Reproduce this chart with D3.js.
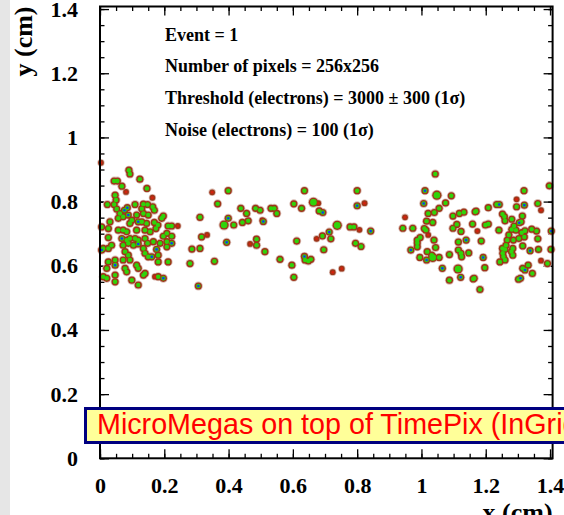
<!DOCTYPE html>
<html>
<head>
<meta charset="utf-8">
<script src="https://cdn.jsdelivr.net/npm/d3@7"></script>
<style>
  body { margin: 0; background: #fff; }
  #chart_container { position: relative; }
</style>
</head>
<body>
<div id="chart_container"></div>
<script>
// axis ticks and labels
const xTickValues = [0, 0.2, 0.4, 0.6, 0.8, 1, 1.2, 1.4];
const xTickLabels = ["0", "0.2", "0.4", "0.6", "0.8", "1", "1.2", "1.4"];
const yTickValues = [0, 0.2, 0.4, 0.6, 0.8, 1, 1.2, 1.4];
const yTickLabels = ["0", "0.2", "0.4", "0.6", "0.8", "1", "1.2", "1.4"];
const minorStep = 0.05;
const axisMax = 1.408; // 256 pixels x 55 um

const infoLines = [
    "Event = 1",
    "Number of pixels = 256x256",
    "Threshold (electrons) = 3000 \u00b1 300 (1\u03c3)",
    "Noise (electrons) = 100 (1\u03c3)"
];
const bannerText = "MicroMegas on top of TimePix (InGrid)";

// hits: [x (cm), y (cm), charge level] 0 = low, 1 = normal, 2 = high, 3 = large
const hitsLeft = [
    [0.003, 0.921, 0], [0.090, 0.898, 1], [0.093, 0.886, 1], [0.124, 0.870, 1], [0.044, 0.864, 1], [0.054, 0.864, 1],
    [0.068, 0.848, 1], [0.081, 0.830, 0], [0.146, 0.841, 1], [0.047, 0.820, 1], [0.163, 0.812, 0], [0.050, 0.805, 1],
    [0.044, 0.791, 1], [0.023, 0.791, 1], [0.109, 0.791, 1], [0.135, 0.792, 1], [0.148, 0.791, 1], [0.130, 0.778, 1],
    [0.164, 0.784, 1], [0.169, 0.773, 1], [0.085, 0.781, 2], [0.076, 0.773, 2], [0.052, 0.777, 1], [0.062, 0.763, 1],
    [0.057, 0.748, 1], [0.072, 0.753, 1], [0.088, 0.758, 2], [0.099, 0.742, 1], [0.093, 0.732, 1], [0.114, 0.758, 1],
    [0.135, 0.763, 1], [0.150, 0.758, 1], [0.197, 0.755, 1], [0.192, 0.748, 1], [0.119, 0.737, 2], [0.130, 0.737, 1],
    [0.145, 0.732, 1], [0.169, 0.735, 1], [0.180, 0.727, 1], [0.174, 0.716, 1], [0.031, 0.737, 1], [0.005, 0.721, 1],
    [0.026, 0.716, 1], [0.057, 0.711, 1], [0.072, 0.711, 1], [0.083, 0.706, 1], [0.223, 0.724, 1], [0.212, 0.724, 1],
    [0.242, 0.724, 0], [0.114, 0.711, 1], [0.140, 0.711, 1], [0.156, 0.706, 1], [0.197, 0.692, 1], [0.208, 0.701, 1],
    [0.223, 0.692, 1], [0.026, 0.688, 1], [0.068, 0.685, 2], [0.083, 0.680, 1], [0.093, 0.685, 1], [0.109, 0.685, 1],
    [0.119, 0.680, 1], [0.140, 0.685, 1], [0.148, 0.670, 1], [0.166, 0.675, 1], [0.187, 0.670, 1], [0.208, 0.675, 1],
    [0.208, 0.659, 1], [0.223, 0.670, 2], [0.036, 0.664, 1], [0.026, 0.654, 1], [0.072, 0.664, 1], [0.088, 0.670, 1],
    [0.104, 0.664, 1], [0.119, 0.668, 2], [0.135, 0.654, 1], [0.176, 0.651, 2], [0.005, 0.649, 2], [0.010, 0.654, 1],
    [0.078, 0.644, 1], [0.088, 0.633, 1], [0.140, 0.639, 1], [0.150, 0.628, 1], [0.161, 0.628, 2], [0.181, 0.633, 1],
    [0.181, 0.612, 1], [0.212, 0.612, 1], [0.026, 0.612, 1], [0.047, 0.618, 1], [0.021, 0.592, 1], [0.047, 0.602, 2],
    [0.072, 0.618, 1], [0.093, 0.618, 1], [0.114, 0.602, 1], [0.119, 0.592, 1], [0.078, 0.592, 1], [0.083, 0.581, 1],
    [0.140, 0.576, 1], [0.047, 0.571, 1], [0.010, 0.566, 1], [0.021, 0.561, 1], [0.135, 0.571, 1], [0.099, 0.555, 1],
    [0.047, 0.550, 1], [0.119, 0.540, 1], [0.171, 0.566, 0], [0.181, 0.566, 1], [0.197, 0.561, 2]
];

const hitsMiddle = [
    [0.349, 0.829, 0], [0.399, 0.834, 1], [0.366, 0.793, 1], [0.311, 0.751, 1], [0.399, 0.748, 2], [0.386, 0.727, 3],
    [0.416, 0.727, 1], [0.438, 0.779, 1], [0.456, 0.763, 1], [0.443, 0.735, 1], [0.461, 0.740, 1], [0.484, 0.779, 1],
    [0.498, 0.773, 1], [0.505, 0.742, 0], [0.508, 0.738, 2], [0.532, 0.779, 1], [0.542, 0.779, 1], [0.550, 0.763, 1],
    [0.316, 0.690, 1], [0.333, 0.696, 0], [0.394, 0.673, 2], [0.467, 0.668, 0], [0.487, 0.683, 1], [0.487, 0.664, 1],
    [0.286, 0.652, 1], [0.311, 0.654, 1], [0.513, 0.644, 1], [0.280, 0.607, 1], [0.356, 0.614, 1], [0.560, 0.620, 1],
    [0.306, 0.537, 2], [0.636, 0.834, 1], [0.800, 0.834, 1], [0.603, 0.793, 1], [0.664, 0.798, 3], [0.679, 0.795, 0],
    [0.627, 0.779, 1], [0.682, 0.771, 1], [0.693, 0.766, 2], [0.800, 0.787, 2], [0.823, 0.795, 0], [0.738, 0.726, 3],
    [0.778, 0.721, 1], [0.790, 0.721, 1], [0.807, 0.712, 0], [0.842, 0.708, 2], [0.713, 0.705, 2], [0.692, 0.693, 1],
    [0.674, 0.684, 0], [0.718, 0.684, 1], [0.612, 0.677, 1], [0.795, 0.670, 1], [0.812, 0.660, 1], [0.696, 0.650, 1],
    [0.636, 0.629, 2], [0.638, 0.618, 1], [0.648, 0.615, 1], [0.656, 0.620, 1], [0.597, 0.602, 1], [0.752, 0.591, 0],
    [0.724, 0.580, 0], [0.603, 0.564, 1]
];

const hitsRight = [
    [1.043, 0.886, 1], [1.011, 0.834, 2], [1.048, 0.820, 3], [1.093, 0.818, 1], [1.007, 0.794, 2], [1.075, 0.796, 1],
    [1.055, 0.779, 1], [1.021, 0.763, 1], [1.040, 0.766, 1], [0.949, 0.751, 0], [1.016, 0.739, 1], [1.035, 0.735, 1],
    [1.098, 0.755, 1], [1.118, 0.763, 1], [1.132, 0.767, 1], [1.110, 0.729, 1], [1.098, 0.717, 1], [1.159, 0.730, 1],
    [1.167, 0.768, 1], [0.942, 0.717, 1], [0.973, 0.717, 1], [1.009, 0.716, 1], [1.014, 0.711, 1], [1.021, 0.696, 0],
    [1.123, 0.707, 1], [0.996, 0.688, 1], [0.987, 0.680, 1], [0.987, 0.671, 1], [0.987, 0.659, 1], [1.039, 0.680, 1],
    [1.115, 0.674, 1], [1.139, 0.680, 2], [1.044, 0.657, 1], [0.967, 0.649, 2], [1.018, 0.644, 1], [1.032, 0.633, 1],
    [1.055, 0.626, 1], [1.115, 0.649, 1], [1.123, 0.639, 1], [1.125, 0.628, 1], [1.147, 0.640, 1], [1.087, 0.635, 1],
    [0.995, 0.626, 1], [1.016, 0.618, 2], [1.035, 0.626, 3], [1.065, 0.592, 2], [1.114, 0.590, 3], [1.122, 0.564, 2],
    [1.087, 0.555, 1], [1.161, 0.559, 1], [1.319, 0.834, 1], [1.398, 0.849, 1], [1.296, 0.807, 0], [1.234, 0.791, 1],
    [1.242, 0.791, 2], [1.320, 0.789, 2], [1.362, 0.794, 1], [1.296, 0.784, 1], [1.372, 0.773, 0], [1.170, 0.770, 1],
    [1.208, 0.781, 1], [1.252, 0.761, 1], [1.258, 0.753, 1], [1.260, 0.740, 1], [1.281, 0.745, 1], [1.314, 0.755, 1],
    [1.310, 0.737, 1], [1.304, 0.734, 2], [1.199, 0.727, 1], [1.208, 0.730, 1], [1.174, 0.708, 0], [1.241, 0.711, 1],
    [1.288, 0.724, 1], [1.281, 0.713, 1], [1.294, 0.711, 1], [1.343, 0.714, 1], [1.358, 0.708, 1], [1.322, 0.709, 1],
    [1.312, 0.703, 1], [1.404, 0.708, 2], [1.272, 0.696, 1], [1.267, 0.680, 1], [1.303, 0.685, 1], [1.286, 0.680, 1],
    [1.320, 0.690, 1], [1.362, 0.684, 1], [1.186, 0.677, 1], [1.263, 0.664, 1], [1.260, 0.651, 1], [1.315, 0.662, 1],
    [1.284, 0.654, 1], [1.280, 0.644, 1], [1.338, 0.647, 2], [1.364, 0.651, 1], [1.252, 0.654, 1], [1.253, 0.639, 1],
    [1.403, 0.651, 1], [1.284, 0.633, 1], [1.255, 0.628, 1], [1.260, 0.618, 1], [1.244, 0.612, 1], [1.192, 0.626, 2],
    [1.372, 0.616, 0], [1.392, 0.607, 1], [1.332, 0.602, 1], [1.315, 0.592, 1], [1.322, 0.587, 2], [1.197, 0.594, 1],
    [1.345, 0.576, 1], [1.302, 0.558, 1], [1.308, 0.561, 2], [1.164, 0.561, 1], [1.182, 0.526, 1]
];

const W = 564, H = 515;
const frame = { left: 100, right: 552.6, top: 6.5, bottom: 458.3 };

const svg = d3.select("#chart_container")
    .append("svg")
    .attr("width", W)
    .attr("height", H)
    .style("display", "block");

// light grey strip on the far left
svg.append("rect")
    .attr("x", 0).attr("y", 0)
    .attr("width", 10).attr("height", H)
    .attr("fill", "#e6e6e6");

const x = d3.scaleLinear().domain([0, axisMax]).range([frame.left, frame.right]);
const y = d3.scaleLinear().domain([0, axisMax]).range([frame.bottom, frame.top]);

const minorTicks = d3.range(0, axisMax, minorStep).map(v => +v.toFixed(2));
const serif = "'Liberation Serif', 'Times New Roman', serif";

function styleAxis(sel) {
    sel.select(".domain").remove();
    sel.selectAll("line").attr("stroke", "#000").attr("stroke-width", 1.3);
    sel.selectAll("text")
        .attr("font-family", serif)
        .attr("font-weight", "bold")
        .attr("font-size", 22)
        .attr("fill", "#000");
}

// bottom
svg.append("g")
    .attr("transform", `translate(0,${frame.bottom})`)
    .call(d3.axisBottom(x).tickValues(minorTicks).tickSize(-4.5).tickFormat(""))
    .call(styleAxis);
svg.append("g")
    .attr("transform", `translate(0,${frame.bottom})`)
    .call(d3.axisBottom(x).tickValues(xTickValues).tickSize(-9).tickPadding(19)
        .tickFormat((d, i) => xTickLabels[i]))
    .call(styleAxis);

// top
svg.append("g")
    .attr("transform", `translate(0,${frame.top})`)
    .call(d3.axisTop(x).tickValues(minorTicks).tickSize(-4.5).tickFormat(""))
    .call(styleAxis);
svg.append("g")
    .attr("transform", `translate(0,${frame.top})`)
    .call(d3.axisTop(x).tickValues(xTickValues).tickSize(-9).tickFormat(""))
    .call(styleAxis);

// left
svg.append("g")
    .attr("transform", `translate(${frame.left},0)`)
    .call(d3.axisLeft(y).tickValues(minorTicks).tickSize(-4.5).tickFormat(""))
    .call(styleAxis);
svg.append("g")
    .attr("transform", `translate(${frame.left},0)`)
    .call(d3.axisLeft(y).tickValues(yTickValues).tickSize(-9).tickPadding(22)
        .tickFormat((d, i) => yTickLabels[i]))
    .call(styleAxis);

// right
svg.append("g")
    .attr("transform", `translate(${frame.right},0)`)
    .call(d3.axisRight(y).tickValues(minorTicks).tickSize(-4.5).tickFormat(""))
    .call(styleAxis);
svg.append("g")
    .attr("transform", `translate(${frame.right},0)`)
    .call(d3.axisRight(y).tickValues(yTickValues).tickSize(-9).tickFormat(""))
    .call(styleAxis);

// hits, drawn layer by layer so neighbouring pixels merge
const hits = hitsLeft.concat(hitsMiddle, hitsRight);
const layers = [
    { fill: "#d8bdb4", r: [3.7, 4.5, 4.5, 5.5], show: q => true },
    { fill: "#9e3418", r: [2.9, 3.6, 3.6, 4.6], show: q => true },
    { fill: "#d8200c", r: [1.3, 0, 0, 0], show: q => q === 0 },
    { fill: "#2fd40a", r: [0, 2.2, 2.3, 3.3], show: q => q > 0 },
    { fill: "#0c3ef0", r: [0, 0, 1.3, 0], show: q => q === 2 }
];
const hitG = svg.append("g");
layers.forEach(layer => {
    hitG.append("g")
        .selectAll("circle")
        .data(hits.filter(d => layer.show(d[2])))
        .enter()
        .append("circle")
        .attr("cx", d => x(d[0]))
        .attr("cy", d => y(d[1]))
        .attr("r", d => layer.r[d[2]])
        .attr("fill", layer.fill);
});

// frame
svg.append("rect")
    .attr("x", frame.left)
    .attr("y", frame.top)
    .attr("width", frame.right - frame.left)
    .attr("height", frame.bottom - frame.top)
    .attr("fill", "none")
    .attr("stroke", "#000")
    .attr("stroke-width", 2);

// info text
svg.append("g")
    .selectAll("text")
    .data(infoLines)
    .enter()
    .append("text")
    .attr("x", 165)
    .attr("y", (d, i) => 40.5 + i * 31.8)
    .attr("font-family", serif)
    .attr("font-weight", "bold")
    .attr("font-size", 18)
    .text(d => d);

// axis titles
svg.append("text")
    .attr("transform", `translate(32,${frame.top}) rotate(-90)`)
    .attr("text-anchor", "end")
    .attr("font-family", serif)
    .attr("font-weight", "bold")
    .attr("font-size", 26)
    .text("y (cm)");

svg.append("text")
    .attr("x", frame.right)
    .attr("y", 521)
    .attr("text-anchor", "end")
    .attr("font-family", serif)
    .attr("font-weight", "bold")
    .attr("font-size", 26)
    .text("x (cm)");

// banner, runs past the right edge of the page as in the original slide
svg.append("rect")
    .attr("x", 85.5)
    .attr("y", 408.5)
    .attr("width", 520)
    .attr("height", 34)
    .attr("fill", "#ffff99")
    .attr("stroke", "#000080")
    .attr("stroke-width", 3);
svg.append("text")
    .attr("x", 97)
    .attr("y", 434)
    .attr("font-family", "'Liberation Sans', Arial, sans-serif")
    .attr("font-size", 28.7)
    .attr("fill", "#ff0000")
    .text(bannerText);
</script>
</body>
</html>
